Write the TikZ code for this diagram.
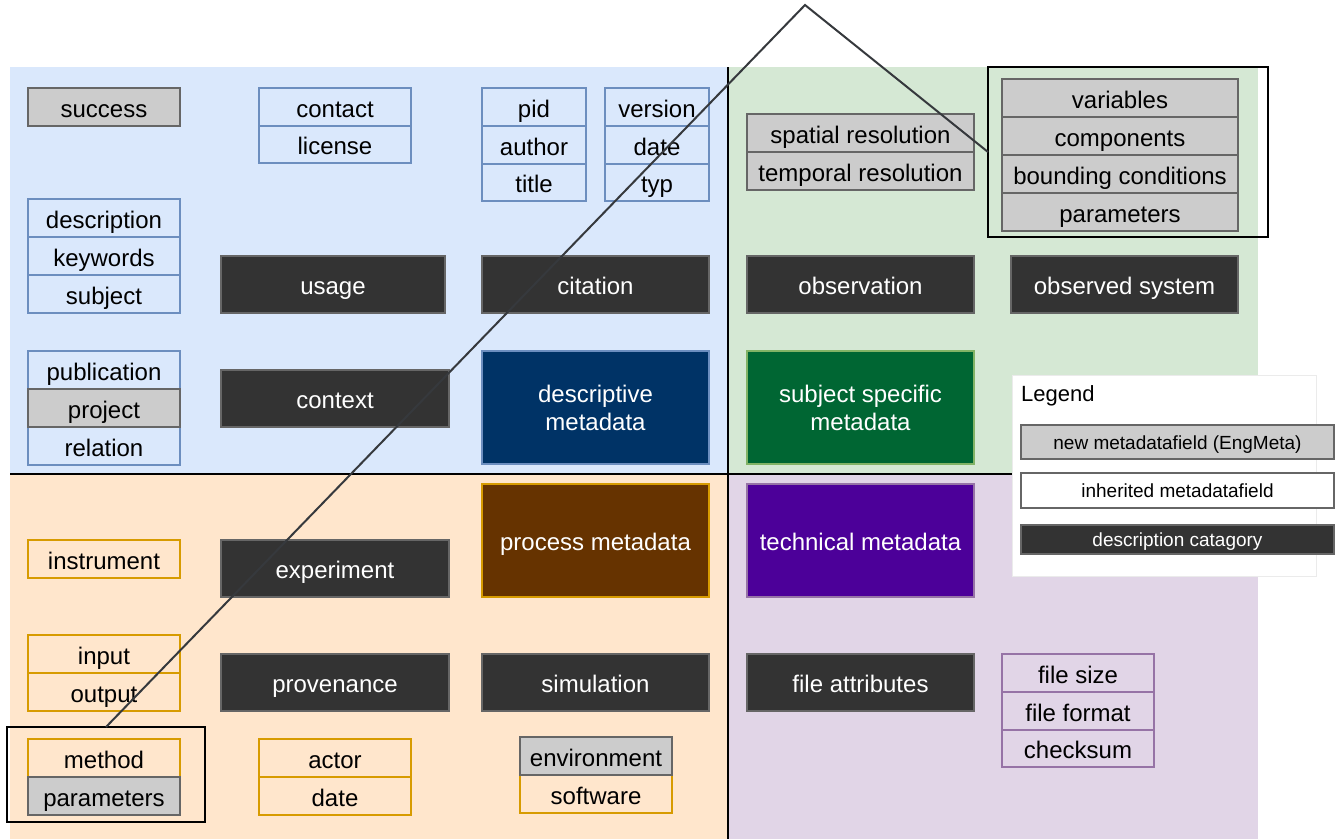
\documentclass[tikz,border=0pt]{standalone}
\usepackage{fontspec}
\setmainfont{Liberation Sans}
\definecolor{blueBg}{HTML}{DAE8FC}
\definecolor{blueLine}{HTML}{6C8EBF}
\definecolor{greenBg}{HTML}{D5E8D4}
\definecolor{greenLine}{HTML}{82B366}
\definecolor{orangeBg}{HTML}{FFE6CC}
\definecolor{orangeLine}{HTML}{D79B00}
\definecolor{purpleBg}{HTML}{E1D5E7}
\definecolor{purpleLine}{HTML}{9673A6}
\definecolor{newFill}{HTML}{CCCCCC}
\definecolor{greyLine}{HTML}{666666}
\definecolor{catFill}{HTML}{333333}
\definecolor{navy}{HTML}{003366}
\definecolor{forest}{HTML}{006633}
\definecolor{brown}{HTML}{663300}
\definecolor{violet}{HTML}{4C0099}
\definecolor{pointer}{HTML}{36393D}

% one rectangular cell given by its corners (x1,y1) (x2,y2)
\newcommand\cellbox[7]{\node[#2, minimum width={#5-#3}, minimum height={#6-#4}] (#1) at (#3,#4) {#7};}

\begin{document}
\begin{tikzpicture}[x=1pt,y=-1pt,
  cell/.style={draw, line width=1.5pt, inner sep=0pt, outer sep=0pt, anchor=north west,
    font=\fontsize{24}{28}\selectfont, text height=20pt, text depth=0pt},
  bluecell/.style={cell, draw=blueLine, fill=blueBg},
  greencell/.style={cell, draw=greenLine, fill=greenBg},
  orangecell/.style={cell, draw=orangeLine, fill=orangeBg},
  purplecell/.style={cell, draw=purpleLine, fill=purpleBg},
  newcell/.style={cell, draw=greyLine, fill=newFill},
  catcell/.style={cell, draw=greyLine, fill=catFill, text=white},
  metacell/.style={draw, line width=1.5pt, inner sep=0pt, outer sep=0pt, anchor=north west,
    font=\fontsize{24}{28}\selectfont, text=white, align=center},
  legcell/.style={cell, font=\fontsize{19}{22}\selectfont, text height=14pt},
  frame/.style={draw=black, line width=2pt, inner sep=0pt, outer sep=0pt, anchor=north west},
  divider/.style={draw=black, line width=2pt}]
\useasboundingbox (0,0) rectangle (1335,839);

% quadrant backgrounds
\fill[blueBg]   (10,67)  rectangle (728,474);
\fill[greenBg]  (728,67) rectangle (1258,474);
\fill[orangeBg] (10,474) rectangle (728,839);
\fill[purpleBg] (728,474) rectangle (1258,839);
\coordinate (vtop) at (728,67);
\coordinate (vbot) at (728,839);
\coordinate (hleft) at (10,474);
\coordinate (hright) at (1258,474);
\draw[divider] (vtop) -- (vbot);
\draw[divider] (hleft) -- (hright);

% descriptive metadata
\cellbox{success}{newcell}{28}{88}{180}{126}{success}
\cellbox{contact}{bluecell}{259}{88}{411}{126}{contact}
\cellbox{license}{bluecell}{259}{126}{411}{163}{license}
\cellbox{pid}{bluecell}{482}{88}{586}{126}{pid}
\cellbox{author}{bluecell}{482}{126}{586}{164}{author}
\cellbox{title}{bluecell}{482}{164}{586}{201}{title}
\cellbox{version}{bluecell}{605}{88}{709}{126}{version}
\cellbox{cdate}{bluecell}{605}{126}{709}{164}{date}
\cellbox{typ}{bluecell}{605}{164}{709}{201}{typ}
\cellbox{description}{bluecell}{28}{199}{180}{237}{description}
\cellbox{keywords}{bluecell}{28}{237}{180}{275}{keywords}
\cellbox{subject}{bluecell}{28}{275}{180}{313}{subject}
\cellbox{usage}{catcell}{221}{256}{445}{313}{usage}
\cellbox{citation}{catcell}{482}{256}{709}{313}{citation}
\cellbox{publication}{bluecell}{28}{351}{180}{389}{publication}
\cellbox{relation}{bluecell}{28}{427}{180}{465}{relation}
\cellbox{project}{newcell}{28}{389}{180}{427}{project}
\cellbox{context}{catcell}{221}{370}{449}{427}{context}
\node[metacell, fill=navy, draw=blueLine, minimum width=227, minimum height=113]
  (descriptive) at (482,351) {descriptive\\metadata};

% subject specific metadata
\cellbox{spatial}{newcell}{747}{114}{974}{152}{spatial resolution}
\cellbox{temporal}{newcell}{747}{152}{974}{190}{temporal resolution}
\cellbox{variables}{newcell}{1002}{79}{1238}{117}{variables}
\cellbox{components}{newcell}{1002}{117}{1238}{155}{components}
\cellbox{bounding}{newcell}{1002}{155}{1238}{193}{bounding conditions}
\cellbox{sparameters}{newcell}{1002}{193}{1238}{231}{parameters}
\cellbox{observation}{catcell}{747}{256}{974}{313}{observation}
\cellbox{observed}{catcell}{1011}{256}{1238}{313}{observed system}
\node[metacell, fill=forest, draw=greenLine, minimum width=227, minimum height=113]
  (subjectspecific) at (747,351) {subject specific\\metadata};

% process metadata
\node[metacell, fill=brown, draw=orangeLine, minimum width=227, minimum height=113,
  text height=20pt, text depth=0pt]
  (process) at (482,484) {process metadata};
\cellbox{instrument}{orangecell}{28}{540}{180}{578}{instrument}
\cellbox{experiment}{catcell}{221}{540}{449}{597}{experiment}
\cellbox{input}{orangecell}{28}{635}{180}{673}{input}
\cellbox{output}{orangecell}{28}{673}{180}{711}{output}
\cellbox{provenance}{catcell}{221}{654}{449}{711}{provenance}
\cellbox{simulation}{catcell}{482}{654}{709}{711}{simulation}
\cellbox{method}{orangecell}{28}{739}{180}{777}{method}
\cellbox{pparameters}{newcell}{28}{777}{180}{815}{parameters}
\cellbox{actor}{orangecell}{259}{739}{411}{777}{actor}
\cellbox{pdate}{orangecell}{259}{777}{411}{815}{date}
\cellbox{software}{orangecell}{520}{775}{672}{813}{software}
\cellbox{environment}{newcell}{520}{737}{672}{775}{environment}

% technical metadata
\node[metacell, fill=violet, draw=purpleLine, minimum width=227, minimum height=113,
  text height=20pt, text depth=0pt]
  (technical) at (747,484) {technical metadata};
\cellbox{fileattr}{catcell}{747}{654}{974}{711}{file attributes}
\cellbox{filesize}{purplecell}{1002}{654}{1154}{692}{file size}
\cellbox{fileformat}{purplecell}{1002}{692}{1154}{730}{file format}
\cellbox{checksum}{purplecell}{1002}{730}{1154}{767}{checksum}

% legend
\node[draw=black!8, fill=white, line width=1pt, inner sep=0pt, anchor=north west,
  minimum width=304, minimum height=201] (legend) at (1012,375) {};
\node[anchor=west, inner sep=0pt, font=\fontsize{22}{26}\selectfont] (legendtitle) at (1021,396) {Legend};
\cellbox{legnew}{legcell, draw=greyLine, fill=newFill}{1021}{425}{1334}{459}{new metadatafield (EngMeta)}
\cellbox{leginh}{legcell, draw=greyLine, fill=white}{1021}{473}{1334}{508}{inherited metadatafield}
\cellbox{legcat}{legcell, draw=greyLine, fill=catFill, text=white}{1021}{525}{1334}{554}{description catagory}

% highlight frames and the pointer joining them
\node[frame, minimum width=280, minimum height=170] (frameTR) at (988,67) {};
\node[frame, minimum width=198, minimum height=95] (frameBL) at (7,727) {};
\coordinate (apex) at (805,5);
\draw[pointer, line width=2pt] (frameBL.north) -- (apex) -- (frameTR.west);
\end{tikzpicture}
\end{document}
